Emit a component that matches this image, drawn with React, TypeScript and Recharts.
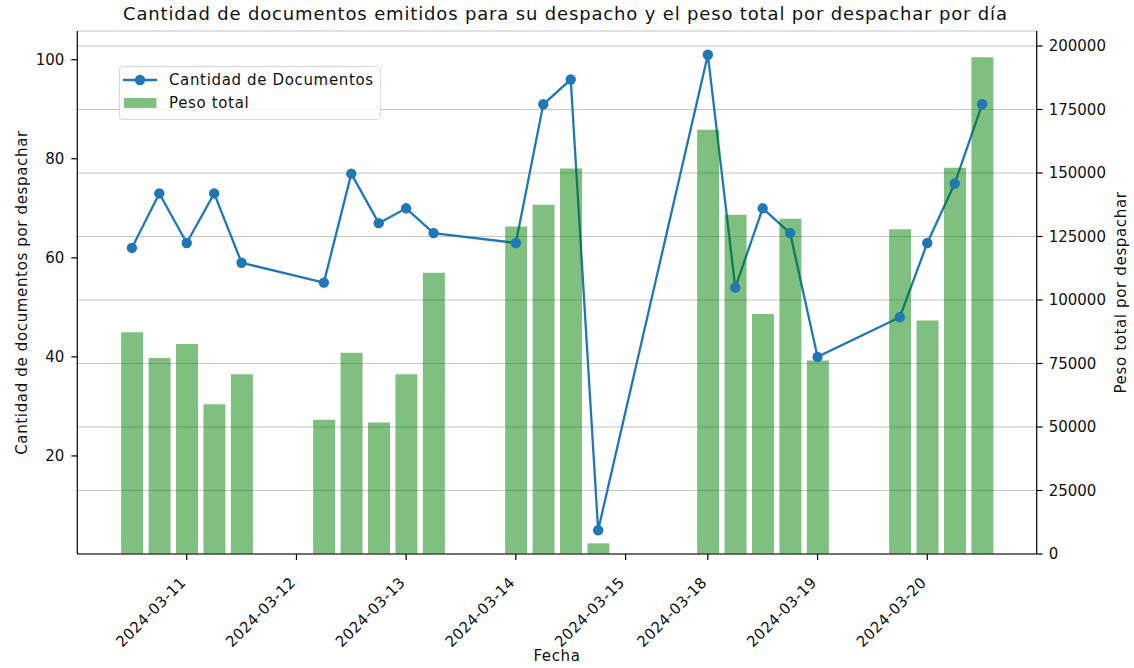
import {
  ComposedChart,
  Line,
  Bar,
  XAxis,
  YAxis,
  CartesianGrid,
  Legend,
} from 'recharts';

// posición de cada registro en el eje (hueco entre días = sin datos)
const slots = [0, 1, 2, 3, 4, 7, 8, 9, 10, 11, 14, 15, 16, 17, 21, 22, 23, 24, 25, 28, 29, 30, 31];
const cantidadDocumentos = [62, 73, 63, 73, 59, 55, 77, 67, 70, 65, 63, 91, 96, 5, 101, 54, 70, 65, 40, 48, 63, 75, 91];
const pesoTotal = [
  87300, 77200, 82700, 59000, 70800, 52900, 79200, 51800, 70800, 110700, 128900, 137500, 151800, 4200,
  167000, 133600, 94500, 132000, 76200, 127900, 91900, 152100, 195600,
];

const fechaTicks = [2, 6, 10, 14, 18, 21, 25, 29];
const fechaLabels = [
  '2024-03-11',
  '2024-03-12',
  '2024-03-13',
  '2024-03-14',
  '2024-03-15',
  '2024-03-18',
  '2024-03-19',
  '2024-03-20',
];
const docTicks = [20, 40, 60, 80, 100];
const pesoTicks = [0, 25000, 50000, 75000, 100000, 125000, 150000, 175000, 200000];

const FONT = '"DejaVu Sans", sans-serif';
const BLUE = '#1f77b4';
const TXT = '#111';
const LS = 0.65; // matplotlib dibuja el texto un poco más ancho

const data = slots.map((s, i) => ({
  slot: s,
  documentos: cantidadDocumentos[i],
  peso: pesoTotal[i],
}));

const DateTick = ({ x, y, payload }: any) => {
  const idx = fechaTicks.indexOf(payload.value);
  return (
    <text
      x={x}
      y={y}
      transform={`rotate(-45 ${x} ${y})`}
      textAnchor="end"
      fontSize={15}
      fontFamily={FONT}
      fill={TXT}
      letterSpacing={0.4}
    >
      {fechaLabels[idx]}
    </text>
  );
};

const LegendBox = () => (
  <svg width={262} height={54} style={{ display: 'block' }}>
    <rect x={0.5} y={0.5} width={261} height={53} rx={3} fill="rgba(255,255,255,0.8)" stroke="#d6d6d6" />
    <line x1={4} y1={14} x2={38} y2={14} stroke={BLUE} strokeWidth={2.3} />
    <circle cx={21} cy={14} r={5.2} fill={BLUE} />
    <text x={50} y={19} fontSize={15} fontFamily={FONT} fill={TXT} letterSpacing={LS}>
      Cantidad de Documentos
    </text>
    <rect x={5} y={32} width={32.5} height={10} fill="#008000" fillOpacity={0.5} />
    <text x={50} y={42} fontSize={15} fontFamily={FONT} fill={TXT} letterSpacing={LS}>
      Peso total
    </text>
  </svg>
);

export default function App() {
  return (
    <div style={{ position: 'absolute', left: 0, top: 0, width: 1134, height: 668, background: '#fff' }}>
      <ComposedChart
        width={1134}
        height={668}
        data={data}
        margin={{ top: 31, right: 0, bottom: 0, left: 0 }}
      >
        <CartesianGrid yAxisId="right" vertical={false} stroke="#c4c4c4" strokeWidth={1.2} />
        <XAxis
          dataKey="slot"
          type="number"
          domain={[-1.99, 32.99]}
          ticks={fechaTicks}
          tick={<DateTick />}
          tickSize={6}
          tickMargin={23.5}
          height={114}
          interval={0}
          axisLine={{ stroke: '#000', strokeWidth: 1.2 }}
          tickLine={{ stroke: '#000', strokeWidth: 1.2 }}
          allowDataOverflow
        />
        <XAxis
          xAxisId="top"
          dataKey="slot"
          type="number"
          orientation="top"
          domain={[-1.99, 32.99]}
          height={0}
          tick={false}
          tickLine={false}
          axisLine={{ stroke: '#000', strokeWidth: 1.2 }}
        />
        <YAxis
          yAxisId="left"
          type="number"
          domain={[0.2, 105.8]}
          ticks={docTicks}
          width={77.3}
          tickSize={6}
          tickMargin={7}
          tick={{ fontSize: 15, fontFamily: FONT, fill: TXT }}
          axisLine={{ stroke: '#000', strokeWidth: 1.2 }}
          tickLine={{ stroke: '#000', strokeWidth: 1.2 }}
          allowDataOverflow
        />
        <YAxis
          yAxisId="right"
          orientation="right"
          type="number"
          domain={[0, 205900]}
          ticks={pesoTicks}
          width={97.3}
          tickSize={6}
          tickMargin={6}
          tick={{ fontSize: 15, fontFamily: FONT, fill: TXT, textAnchor: 'start' }}
          axisLine={{ stroke: '#000', strokeWidth: 1.2 }}
          tickLine={{ stroke: '#000', strokeWidth: 1.2 }}
          allowDataOverflow
        />
        <Legend
          layout="vertical"
          align="center"
          verticalAlign="middle"
          content={<LegendBox />}
          wrapperStyle={{ left: 119, top: 66, width: 262, height: 54 }}
        />
        <Line
          yAxisId="left"
          type="linear"
          dataKey="documentos"
          stroke={BLUE}
          strokeWidth={2.3}
          dot={{ r: 5.2, fill: BLUE, stroke: 'none' }}
          activeDot={false}
          isAnimationActive={false}
          zIndex={300}
        />
        <Bar
          yAxisId="right"
          dataKey="peso"
          fill="#008000"
          fillOpacity={0.5}
          barSize={22}
          isAnimationActive={false}
          zIndex={500}
        />
      </ComposedChart>
      <svg
        width={1134}
        height={668}
        style={{ position: 'absolute', left: 0, top: 0, pointerEvents: 'none' }}
      >
        <text x={123} y={20} fontSize={18} fontFamily={FONT} fill={TXT} letterSpacing={0.84}>
          Cantidad de documentos emitidos para su despacho y el peso total por despachar por día
        </text>
        <text x={557} y={661} textAnchor="middle" fontSize={15} fontFamily={FONT} fill={TXT} letterSpacing={LS}>
          Fecha
        </text>
        <text
          x={27}
          y={292.5}
          transform="rotate(-90 27 292.5)"
          textAnchor="middle"
          fontSize={15}
          fontFamily={FONT}
          fill={TXT}
          letterSpacing={LS}
        >
          Cantidad de documentos por despachar
        </text>
        <text
          x={1126}
          y={292.5}
          transform="rotate(-90 1126 292.5)"
          textAnchor="middle"
          fontSize={15}
          fontFamily={FONT}
          fill={TXT}
          letterSpacing={LS}
        >
          Peso total por despachar
        </text>
      </svg>
    </div>
  );
}
